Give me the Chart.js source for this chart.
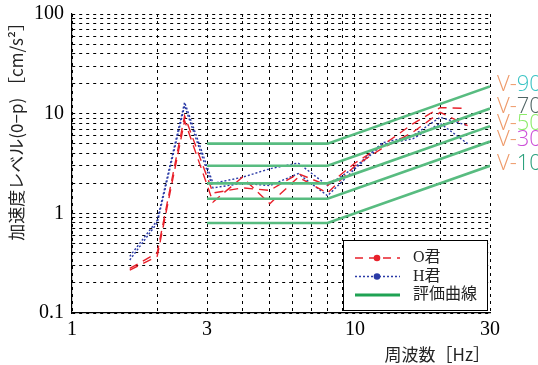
<!DOCTYPE html>
<html><head><meta charset="utf-8">
<script src="https://cdn.jsdelivr.net/npm/chart.js@4/dist/chart.umd.min.js"></script>
<style>html,body{margin:0;padding:0;background:#fff}#wrap{width:538px;height:365px;position:relative}</style>
</head><body><div id="wrap"><canvas id="c" width="538" height="365"></canvas></div>
<script>
// ---- data ----
const freqs = [1.6, 2, 2.5, 3.15, 4, 5, 6.3, 8, 10, 12.5, 16, 20, 25];
const oRunA = [0.28, 0.40, 9.5, 1.6, 1.8, 1.7, 2.5, 1.9, 3.2, 4.8, 7.9, 11.5, 11.3];
const oRunB = [0.27, 0.37, 8.5, 1.3, 2.3, 1.25, 2.3, 1.6, 3.0, 4.5, 6.5, 10.3, 7.6];
const hRunA = [0.37, 0.85, 13, 2.0, 2.3, 2.8, 3.2, 1.9, 2.9, 5.1, 6.0, 9.2, 7.6];
const hRunB = [0.34, 0.80, 12, 1.8, 2.0, 1.9, 2.5, 1.5, 2.8, 4.9, 5.6, 8.0, 5.0];
const evalNames = ['V-10', 'V-30', 'V-50', 'V-70', 'V-90'];
const evalFreqs = [3, 8, 30];
const evalV10 = [0.8, 0.8, 3.0];
const evalV30 = [1.4, 1.4, 5.25];
const evalV50 = [2.0, 2.0, 7.5];
const evalV70 = [3.0, 3.0, 11.25];
const evalV90 = [5.0, 5.0, 18.75];
const evalNumColors = ['#2aa07c', '#cc4fd8', '#8cec6a', '#4f6363', '#3cc4c4'];
const xTicks = [1, 2, 3, 4, 5, 6, 7, 8, 9, 10, 20, 30];
const xLabeled = [1, 3, 10, 30];
const yTicks = [0.1,0.2,0.3,0.4,0.5,0.6,0.7,0.8,0.9,1,2,3,4,5,6,7,8,9,10,20,30,40,50,60,70,80,90,100];
const yLabeled = [0.1, 1, 10, 100];

const pts = (xs, ys) => xs.map((x, i) => ({x: x, y: ys[i]}));
const RED = '#e8212b', BLUE = '#2a3aa6', GREEN = 'rgb(88,188,128)', GREEN_LEG = '#1fa253';
const evalSets = [evalV10, evalV30, evalV50, evalV70, evalV90];

const datasets = [];
evalSets.forEach((arr, i) => datasets.push({
  label: evalNames[i], data: pts(evalFreqs, arr), showLine: true, borderColor: GREEN,
  borderWidth: 2.6, pointRadius: 0, isEval: true
}));
datasets.push({label: 'O君', data: pts(freqs, oRunA), showLine: true, borderColor: RED, borderWidth: 1.4, borderDash: [9, 6], pointRadius: 0});
datasets.push({label: 'O君 2', data: pts(freqs, oRunB), showLine: true, borderColor: RED, borderWidth: 1.4, borderDash: [9, 6], pointRadius: 0});
datasets.push({label: 'H君', data: pts(freqs, hRunA), showLine: true, borderColor: BLUE, borderWidth: 1.4, borderDash: [2, 2], pointRadius: 0});
datasets.push({label: 'H君 2', data: pts(freqs, hRunB), showLine: true, borderColor: BLUE, borderWidth: 1.4, borderDash: [2, 2], pointRadius: 0});

const serif = '"Liberation Serif", "DejaVu Serif", serif';
const cjk = '"Noto Sans CJK JP", sans-serif';
const mixed = '"Liberation Serif", "Noto Sans CJK JP", serif';

const legendItems = [
  {text: 'O君', color: RED, dash: [8, 6], dot: true, width: 1.4},
  {text: 'H君', color: BLUE, dash: [2, 2], dot: true, width: 1.4},
  {text: '評価曲線', color: GREEN_LEG, dash: [], dot: false, width: 3}
];

const boxLegend = {
  id: 'boxLegend',
  afterDraw(chart) {
    const ctx = chart.ctx, a = chart.chartArea;
    const w = 144, h = 70;
    const x0 = a.right - w - 3, y0 = a.bottom - h - 3;
    ctx.save();
    ctx.fillStyle = '#fff';
    ctx.fillRect(x0, y0, w, h);
    ctx.strokeStyle = '#000'; ctx.lineWidth = 1; ctx.setLineDash([]);
    ctx.strokeRect(x0 + 0.5, y0 + 0.5, w, h);
    legendItems.forEach((it, i) => {
      const y = y0 + 18 + i * 18.5;
      ctx.strokeStyle = it.color; ctx.lineWidth = it.width; ctx.setLineDash(it.dash);
      ctx.beginPath(); ctx.moveTo(x0 + 12, y); ctx.lineTo(x0 + 57, y); ctx.stroke();
      ctx.setLineDash([]);
      if (it.dot) { ctx.fillStyle = it.color; ctx.beginPath(); ctx.arc(x0 + 34, y, 3.3, 0, Math.PI * 2); ctx.fill(); }
      ctx.fillStyle = '#222'; ctx.font = '16px ' + mixed; ctx.textBaseline = 'middle'; ctx.textAlign = 'left';
      ctx.fillText(it.text, x0 + 70, y);
    });
    ctx.restore();
  }
};

const vLabels = {
  id: 'vLabels',
  afterDraw(chart) {
    const ctx = chart.ctx, a = chart.chartArea;
    ctx.save();
    ctx.font = '300 22px "Open Sans", "DejaVu Sans", sans-serif';
    ctx.textBaseline = 'middle'; ctx.textAlign = 'left';
    chart.data.datasets.forEach((ds, i) => {
      if (!ds.isEval) return;
      const meta = chart.getDatasetMeta(i);
      const p = meta.data[meta.data.length - 1];
      const name = ds.label;
      const x = a.right + 7;
      const y = p.y - 2;
      ctx.fillStyle = '#ee9a6a';
      ctx.fillText('V-', x, y);
      const wv = ctx.measureText('V-').width;
      ctx.fillStyle = evalNumColors[i];
      ctx.fillText(name.slice(2), x + wv, y);
    });
    ctx.restore();
  }
};

new Chart(document.getElementById('c'), {
  type: 'scatter',
  data: {datasets: datasets},
  options: {
    responsive: false, animation: false, devicePixelRatio: 1,
    layout: {padding: {left: 0, right: 48, top: 14, bottom: 0}},
    plugins: {legend: {display: false}, tooltip: {enabled: false}},
    scales: {
      x: {
        type: 'logarithmic', min: 1, max: 30,
        afterBuildTicks: s => { s.ticks = xTicks.map(v => ({value: v})); },
        afterFit: s => { s.height = 52; s.paddingLeft = 0; s.paddingRight = 0; },
        ticks: {autoSkip: false, maxRotation: 0, padding: 5, color: '#000',
          font: {family: serif, size: 20},
          callback: v => xLabeled.includes(v) ? String(v) : ''},
        grid: {color: '#000', lineWidth: 1, drawTicks: false},
        border: {display: true, color: '#000', width: 1.2, dash: [3, 4]},
        title: {display: true, text: '周波数［Hz］', align: 'end', color: '#222',
          font: {family: cjk, size: 17}, padding: {top: 0, bottom: 0}}
      },
      y: {
        type: 'logarithmic', min: 0.1, max: 100,
        afterBuildTicks: s => { s.ticks = yTicks.map(v => ({value: v})); },
        afterFit: s => { s.width = 72; s.paddingTop = 0; s.paddingBottom = 0; },
        ticks: {autoSkip: false, padding: 8, color: '#000',
          font: {family: serif, size: 20},
          callback: v => yLabeled.includes(v) ? String(v) : ''},
        grid: {color: '#000', lineWidth: 1, drawTicks: false},
        border: {display: true, color: '#000', width: 1.2, dash: [3, 4]},
        title: {display: true, text: '加速度レベル(0−p) ［cm/s²］', align: 'end', color: '#222',
          font: {family: cjk, size: 17}, padding: {top: 6, bottom: 0}}
      }
    }
  },
  plugins: [boxLegend, vLabels]
});
</script>
</body></html>
